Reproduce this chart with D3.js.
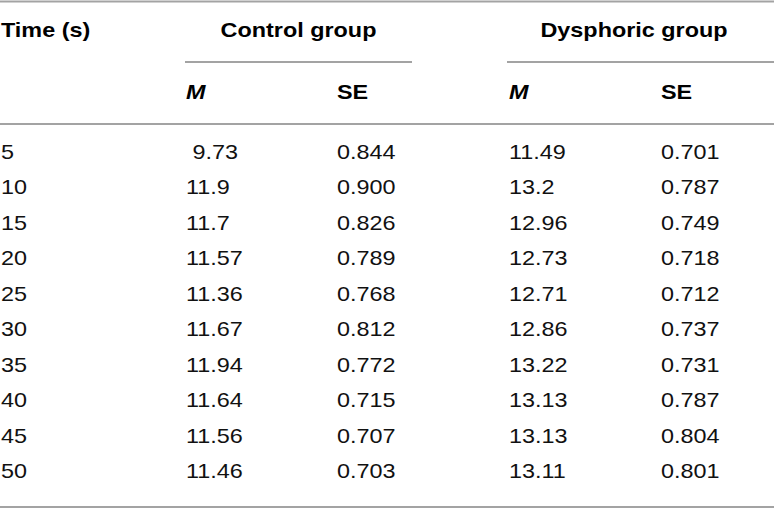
<!DOCTYPE html>
<html>
<head>
<meta charset="utf-8">
<script src="https://cdn.jsdelivr.net/npm/d3@7"></script>
<style>
  body { margin: 0; background: #fff; }
  text { font-family: "Liberation Sans", Arial, sans-serif; font-size: 20px; fill: #111; }
  .head { font-weight: bold; fill: #000; }
  .rule { stroke: #a3a3a3; stroke-width: 2; }
</style>
</head>
<body>
<div id="table"></div>
<script>
// table values
var times = [5, 10, 15, 20, 25, 30, 35, 40, 45, 50];
var controlM = [9.73, 11.9, 11.7, 11.57, 11.36, 11.67, 11.94, 11.64, 11.56, 11.46];
var controlSE = ["0.844", "0.900", "0.826", "0.789", "0.768", "0.812", "0.772", "0.715", "0.707", "0.703"];
var dysphoricM = [11.49, 13.2, 12.96, 12.73, 12.71, 12.86, 13.22, 13.13, 13.13, 13.11];
var dysphoricSE = ["0.701", "0.787", "0.749", "0.718", "0.712", "0.737", "0.731", "0.787", "0.804", "0.801"];
var groups = ["Control group", "Dysphoric group"];
var columns = ["time", "cM", "cSE", "dM", "dSE"];

var width = 774, height = 508;
var sx = 1.17; // the picture is stretched sideways

var svg = d3.select("#table").append("svg")
    .attr("width", width)
    .attr("height", height);

// column left edges
var x = d3.scaleOrdinal().domain(columns).range([1, 186, 337, 509, 661]);
// row baselines
var y = d3.scalePoint().domain(times).range([159, 478]);

function put(sel, px, py) {
  return sel.attr("transform", "translate(" + px + "," + py + ") scale(" + sx + ",1)");
}

// rules
var rules = [
  {x1: 0, x2: width, y: 1.5},
  {x1: 185, x2: 412, y: 62},
  {x1: 507, x2: width, y: 62},
  {x1: 0, x2: width, y: 124},
  {x1: 0, x2: width, y: 507}
];
svg.selectAll("line.rule").data(rules).enter().append("line")
   .attr("class", "rule")
   .attr("x1", d => d.x1).attr("x2", d => d.x2)
   .attr("y1", d => d.y).attr("y2", d => d.y);

// header row 1
put(svg.append("text").attr("class", "head").text("Time (s)"), x("time"), 37);
var groupCentre = [298.5, 634];
svg.selectAll("text.group").data(groups).enter().append("text")
   .attr("class", "head group")
   .attr("text-anchor", "middle")
   .text(d => d)
   .each(function(d, i) { put(d3.select(this), groupCentre[i], 37); });

// header row 2
var sub = [["cM", "M"], ["cSE", "SE"], ["dM", "M"], ["dSE", "SE"]];
svg.selectAll("text.sub").data(sub).enter().append("text")
   .attr("class", "head sub")
   .style("font-style", d => d[1] === "M" ? "italic" : "normal")
   .text(d => d[1])
   .each(function(d) { put(d3.select(this), x(d[0]), 99); });

// body
var fmtM = v => (v < 10 ? "\u00a0" : "") + String(v);
var rows = times.map(function(t, i) {
  return {t: t, cells: [String(t), fmtM(controlM[i]), controlSE[i], fmtM(dysphoricM[i]), dysphoricSE[i]]};
});

var row = svg.selectAll("g.row").data(rows).enter().append("g").attr("class", "row");
row.selectAll("text").data(d => d.cells.map(c => ({t: d.t, c: c})))
   .enter().append("text")
   .style("white-space", "pre")
   .text(d => d.c)
   .each(function(d, j) { put(d3.select(this), x(columns[j]), y(d.t)); });
</script>
</body>
</html>
